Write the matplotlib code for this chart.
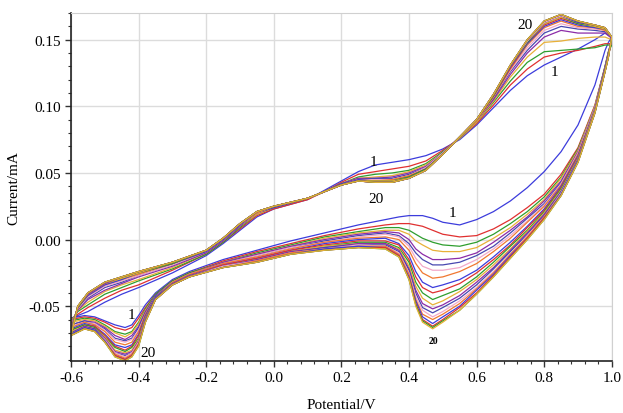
import numpy as np
import matplotlib
matplotlib.use("Agg")
import matplotlib.pyplot as plt
from matplotlib.ticker import MultipleLocator, FormatStrFormatter

plt.rcParams['font.family'] = ['Liberation Serif', 'DejaVu Serif']
plt.rcParams['axes.unicode_minus'] = False

# potential (V) of the positive-going sweep, one row of currents (mA) per potential, cycles 1..20
fwd_V = [-0.60, -0.58, -0.55, -0.50, -0.45, -0.40, -0.30, -0.20, -0.15, -0.10, -0.05, 0.00,
         0.10, 0.15, 0.20, 0.25, 0.30, 0.35, 0.40, 0.45, 0.50, 0.55, 0.60, 0.65, 0.70,
         0.75, 0.80, 0.85, 0.90, 0.95, 0.98, 1.00]
fwd_I = [
    [-0.059, -0.060, -0.061, -0.062, -0.064, -0.064, -0.065, -0.066, -0.067, -0.068, -0.068, -0.069, -0.070, -0.070, -0.071, -0.071, -0.071, -0.072, -0.072, -0.072],
    [-0.057, -0.056, -0.054, -0.053, -0.053, -0.052, -0.052, -0.051, -0.051, -0.051, -0.051, -0.050, -0.050, -0.050, -0.050, -0.050, -0.050, -0.050, -0.050, -0.050],
    [-0.054, -0.051, -0.049, -0.047, -0.045, -0.044, -0.043, -0.042, -0.042, -0.041, -0.041, -0.041, -0.041, -0.040, -0.040, -0.040, -0.040, -0.040, -0.040, -0.040],
    [-0.047, -0.044, -0.041, -0.039, -0.038, -0.036, -0.035, -0.034, -0.034, -0.033, -0.033, -0.033, -0.033, -0.032, -0.032, -0.032, -0.032, -0.032, -0.032, -0.032],
    [-0.041, -0.038, -0.036, -0.034, -0.033, -0.032, -0.031, -0.030, -0.030, -0.029, -0.029, -0.029, -0.028, -0.028, -0.028, -0.028, -0.028, -0.028, -0.028, -0.028],
    [-0.036, -0.034, -0.031, -0.030, -0.028, -0.027, -0.027, -0.026, -0.025, -0.025, -0.025, -0.025, -0.024, -0.024, -0.024, -0.024, -0.024, -0.024, -0.024, -0.024],
    [-0.025, -0.023, -0.022, -0.021, -0.020, -0.019, -0.019, -0.018, -0.018, -0.018, -0.018, -0.017, -0.017, -0.017, -0.017, -0.017, -0.017, -0.017, -0.017, -0.017],
    [-0.012, -0.011, -0.011, -0.010, -0.010, -0.009, -0.009, -0.009, -0.009, -0.008, -0.008, -0.008, -0.008, -0.008, -0.008, -0.008, -0.008, -0.008, -0.008, -0.008],
    [-0.003, -0.002, -0.002, -0.001, -0.001, 0.000, 0.000, 0.000, 0.000, 0.001, 0.001, 0.001, 0.001, 0.001, 0.001, 0.001, 0.001, 0.001, 0.001, 0.001],
    [0.007, 0.008, 0.009, 0.010, 0.010, 0.011, 0.011, 0.011, 0.011, 0.012, 0.012, 0.012, 0.012, 0.012, 0.012, 0.012, 0.012, 0.012, 0.012, 0.012],
    [0.017, 0.018, 0.019, 0.019, 0.020, 0.020, 0.020, 0.020, 0.021, 0.021, 0.021, 0.021, 0.021, 0.021, 0.021, 0.021, 0.021, 0.021, 0.021, 0.021],
    [0.023, 0.023, 0.024, 0.024, 0.024, 0.024, 0.025, 0.025, 0.025, 0.025, 0.025, 0.025, 0.025, 0.025, 0.025, 0.025, 0.025, 0.025, 0.025, 0.025],
    [0.030, 0.030, 0.031, 0.031, 0.031, 0.031, 0.031, 0.031, 0.031, 0.031, 0.031, 0.031, 0.031, 0.031, 0.031, 0.031, 0.031, 0.031, 0.031, 0.031],
    [0.037, 0.036, 0.036, 0.036, 0.036, 0.036, 0.036, 0.036, 0.036, 0.036, 0.036, 0.036, 0.036, 0.036, 0.036, 0.036, 0.036, 0.036, 0.036, 0.036],
    [0.044, 0.043, 0.042, 0.042, 0.042, 0.042, 0.041, 0.041, 0.041, 0.041, 0.041, 0.041, 0.041, 0.041, 0.041, 0.041, 0.041, 0.041, 0.041, 0.041],
    [0.051, 0.049, 0.047, 0.046, 0.046, 0.045, 0.045, 0.045, 0.045, 0.044, 0.044, 0.044, 0.044, 0.044, 0.044, 0.044, 0.044, 0.044, 0.044, 0.044],
    [0.056, 0.051, 0.049, 0.047, 0.046, 0.046, 0.045, 0.044, 0.044, 0.044, 0.044, 0.044, 0.043, 0.043, 0.043, 0.043, 0.043, 0.043, 0.043, 0.043],
    [0.058, 0.053, 0.050, 0.048, 0.047, 0.046, 0.045, 0.045, 0.044, 0.044, 0.044, 0.044, 0.043, 0.043, 0.043, 0.043, 0.043, 0.043, 0.043, 0.043],
    [0.060, 0.055, 0.052, 0.051, 0.050, 0.049, 0.048, 0.048, 0.047, 0.047, 0.047, 0.046, 0.046, 0.046, 0.046, 0.046, 0.046, 0.046, 0.046, 0.046],
    [0.063, 0.059, 0.057, 0.056, 0.055, 0.054, 0.054, 0.053, 0.053, 0.053, 0.053, 0.052, 0.052, 0.052, 0.052, 0.052, 0.052, 0.052, 0.052, 0.052],
    [0.068, 0.067, 0.066, 0.065, 0.065, 0.065, 0.065, 0.064, 0.064, 0.064, 0.064, 0.064, 0.064, 0.064, 0.064, 0.064, 0.064, 0.064, 0.064, 0.064],
    [0.075, 0.076, 0.076, 0.076, 0.077, 0.077, 0.077, 0.077, 0.077, 0.077, 0.077, 0.077, 0.077, 0.077, 0.077, 0.077, 0.077, 0.077, 0.077, 0.077],
    [0.086, 0.087, 0.088, 0.088, 0.089, 0.089, 0.089, 0.089, 0.090, 0.090, 0.090, 0.090, 0.090, 0.090, 0.090, 0.090, 0.090, 0.090, 0.090, 0.090],
    [0.099, 0.101, 0.103, 0.104, 0.105, 0.106, 0.107, 0.107, 0.108, 0.108, 0.108, 0.109, 0.109, 0.109, 0.109, 0.109, 0.109, 0.109, 0.109, 0.109],
    [0.112, 0.116, 0.119, 0.122, 0.124, 0.126, 0.127, 0.128, 0.129, 0.129, 0.130, 0.130, 0.130, 0.130, 0.131, 0.131, 0.131, 0.131, 0.131, 0.131],
    [0.123, 0.128, 0.133, 0.137, 0.140, 0.142, 0.144, 0.146, 0.147, 0.148, 0.148, 0.149, 0.149, 0.149, 0.149, 0.150, 0.150, 0.150, 0.150, 0.150],
    [0.131, 0.137, 0.141, 0.148, 0.152, 0.155, 0.157, 0.159, 0.160, 0.161, 0.162, 0.162, 0.163, 0.163, 0.163, 0.164, 0.164, 0.164, 0.164, 0.164],
    [0.137, 0.140, 0.142, 0.149, 0.157, 0.160, 0.162, 0.164, 0.165, 0.166, 0.167, 0.167, 0.168, 0.168, 0.168, 0.169, 0.169, 0.169, 0.169, 0.169],
    [0.143, 0.142, 0.143, 0.151, 0.155, 0.158, 0.159, 0.160, 0.161, 0.162, 0.162, 0.163, 0.163, 0.163, 0.164, 0.164, 0.164, 0.164, 0.164, 0.164],
    [0.150, 0.145, 0.144, 0.152, 0.155, 0.157, 0.158, 0.159, 0.159, 0.160, 0.160, 0.160, 0.161, 0.161, 0.161, 0.161, 0.161, 0.161, 0.161, 0.161],
    [0.155, 0.147, 0.146, 0.152, 0.155, 0.156, 0.157, 0.157, 0.158, 0.158, 0.158, 0.158, 0.159, 0.159, 0.159, 0.159, 0.159, 0.159, 0.159, 0.159],
    [0.152, 0.147, 0.146, 0.150, 0.151, 0.152, 0.152, 0.152, 0.152, 0.152, 0.152, 0.152, 0.152, 0.152, 0.152, 0.152, 0.152, 0.152, 0.152, 0.152],
]

# negative-going sweep back to -0.6 V
rev_V = [0.99, 0.98, 0.95, 0.90, 0.85, 0.80, 0.75, 0.70, 0.65, 0.60, 0.55, 0.50, 0.47, 0.44,
         0.42, 0.40, 0.37, 0.33, 0.25, 0.15, 0.05, -0.05, -0.15, -0.25, -0.30, -0.35, -0.38,
         -0.40, -0.42, -0.44, -0.47, -0.50, -0.53, -0.56, -0.60]
rev_I = [
    [0.148, 0.141, 0.141, 0.140, 0.140, 0.140, 0.139, 0.139, 0.139, 0.138, 0.138, 0.138, 0.138, 0.138, 0.137, 0.137, 0.137, 0.137, 0.137, 0.137],
    [0.142, 0.130, 0.130, 0.129, 0.129, 0.129, 0.128, 0.128, 0.128, 0.127, 0.127, 0.127, 0.127, 0.127, 0.126, 0.126, 0.126, 0.126, 0.126, 0.126],
    [0.116, 0.101, 0.100, 0.100, 0.099, 0.099, 0.099, 0.098, 0.098, 0.097, 0.097, 0.097, 0.096, 0.096, 0.096, 0.096, 0.095, 0.095, 0.095, 0.095],
    [0.086, 0.069, 0.068, 0.067, 0.066, 0.065, 0.065, 0.064, 0.063, 0.062, 0.061, 0.061, 0.060, 0.060, 0.059, 0.059, 0.059, 0.058, 0.058, 0.058],
    [0.066, 0.049, 0.047, 0.046, 0.044, 0.043, 0.042, 0.041, 0.040, 0.039, 0.038, 0.037, 0.036, 0.036, 0.035, 0.034, 0.034, 0.033, 0.033, 0.033],
    [0.051, 0.034, 0.032, 0.030, 0.029, 0.027, 0.026, 0.025, 0.023, 0.022, 0.021, 0.020, 0.019, 0.018, 0.017, 0.017, 0.016, 0.016, 0.015, 0.015],
    [0.039, 0.024, 0.021, 0.019, 0.017, 0.016, 0.014, 0.013, 0.010, 0.009, 0.007, 0.006, 0.005, 0.004, 0.003, 0.002, 0.001, 0.001, 0.000, 0.000],
    [0.029, 0.015, 0.012, 0.009, 0.007, 0.005, 0.003, 0.001, -0.002, -0.004, -0.005, -0.007, -0.008, -0.009, -0.011, -0.011, -0.012, -0.013, -0.014, -0.014],
    [0.021, 0.008, 0.004, 0.001, -0.002, -0.005, -0.007, -0.009, -0.013, -0.015, -0.017, -0.019, -0.021, -0.022, -0.024, -0.025, -0.026, -0.027, -0.028, -0.028],
    [0.015, 0.003, -0.002, -0.006, -0.010, -0.012, -0.015, -0.018, -0.023, -0.025, -0.028, -0.030, -0.032, -0.034, -0.036, -0.037, -0.038, -0.040, -0.041, -0.041],
    [0.011, 0.002, -0.005, -0.009, -0.014, -0.017, -0.021, -0.024, -0.030, -0.033, -0.037, -0.039, -0.042, -0.044, -0.046, -0.048, -0.050, -0.051, -0.053, -0.053],
    [0.013, 0.004, -0.004, -0.009, -0.015, -0.019, -0.023, -0.028, -0.034, -0.038, -0.042, -0.046, -0.049, -0.051, -0.054, -0.056, -0.058, -0.060, -0.061, -0.062],
    [0.016, 0.007, -0.002, -0.008, -0.015, -0.019, -0.023, -0.029, -0.036, -0.040, -0.045, -0.049, -0.052, -0.055, -0.058, -0.060, -0.063, -0.065, -0.066, -0.067],
    [0.018, 0.010, 0.001, -0.004, -0.011, -0.015, -0.020, -0.025, -0.032, -0.036, -0.040, -0.044, -0.048, -0.051, -0.053, -0.056, -0.058, -0.060, -0.061, -0.062],
    [0.018, 0.011, 0.004, -0.001, -0.007, -0.010, -0.014, -0.018, -0.024, -0.028, -0.032, -0.035, -0.038, -0.040, -0.043, -0.045, -0.046, -0.048, -0.049, -0.050],
    [0.018, 0.012, 0.007, 0.004, 0.000, -0.003, -0.005, -0.008, -0.012, -0.015, -0.017, -0.020, -0.022, -0.023, -0.025, -0.026, -0.028, -0.029, -0.030, -0.030],
    [0.017, 0.012, 0.009, 0.007, 0.005, 0.003, 0.002, 0.000, -0.003, -0.004, -0.006, -0.007, -0.008, -0.009, -0.010, -0.011, -0.012, -0.012, -0.013, -0.013],
    [0.015, 0.011, 0.009, 0.007, 0.006, 0.005, 0.004, 0.002, 0.001, -0.001, -0.002, -0.003, -0.003, -0.004, -0.005, -0.005, -0.006, -0.006, -0.007, -0.007],
    [0.011, 0.008, 0.006, 0.005, 0.004, 0.003, 0.002, 0.001, 0.000, -0.001, -0.002, -0.003, -0.003, -0.004, -0.004, -0.005, -0.005, -0.006, -0.006, -0.006],
    [0.005, 0.003, 0.002, 0.001, 0.000, -0.001, -0.002, -0.002, -0.003, -0.004, -0.005, -0.005, -0.006, -0.006, -0.007, -0.007, -0.007, -0.008, -0.008, -0.008],
    [-0.001, -0.003, -0.004, -0.005, -0.005, -0.006, -0.006, -0.007, -0.008, -0.008, -0.009, -0.009, -0.009, -0.010, -0.010, -0.010, -0.011, -0.011, -0.011, -0.011],
    [-0.008, -0.009, -0.010, -0.011, -0.011, -0.012, -0.012, -0.013, -0.014, -0.014, -0.015, -0.015, -0.015, -0.016, -0.016, -0.016, -0.017, -0.017, -0.017, -0.017],
    [-0.015, -0.016, -0.017, -0.017, -0.017, -0.018, -0.018, -0.018, -0.019, -0.019, -0.020, -0.020, -0.020, -0.020, -0.020, -0.021, -0.021, -0.021, -0.021, -0.021],
    [-0.024, -0.025, -0.025, -0.026, -0.026, -0.026, -0.026, -0.026, -0.027, -0.027, -0.027, -0.027, -0.027, -0.028, -0.028, -0.028, -0.028, -0.028, -0.028, -0.028],
    [-0.030, -0.031, -0.031, -0.032, -0.032, -0.032, -0.032, -0.032, -0.033, -0.033, -0.033, -0.033, -0.033, -0.034, -0.034, -0.034, -0.034, -0.034, -0.034, -0.034],
    [-0.040, -0.041, -0.041, -0.042, -0.042, -0.042, -0.043, -0.043, -0.043, -0.044, -0.044, -0.044, -0.044, -0.044, -0.045, -0.045, -0.045, -0.045, -0.045, -0.045],
    [-0.049, -0.051, -0.052, -0.053, -0.054, -0.055, -0.056, -0.056, -0.057, -0.058, -0.059, -0.059, -0.060, -0.060, -0.061, -0.061, -0.061, -0.062, -0.062, -0.062],
    [-0.057, -0.059, -0.062, -0.063, -0.065, -0.066, -0.068, -0.069, -0.071, -0.072, -0.074, -0.075, -0.076, -0.077, -0.077, -0.078, -0.079, -0.079, -0.080, -0.080],
    [-0.064, -0.066, -0.069, -0.070, -0.072, -0.074, -0.075, -0.077, -0.079, -0.080, -0.081, -0.083, -0.084, -0.085, -0.085, -0.086, -0.087, -0.087, -0.088, -0.088],
    [-0.066, -0.068, -0.071, -0.073, -0.075, -0.076, -0.077, -0.079, -0.081, -0.083, -0.084, -0.085, -0.086, -0.087, -0.088, -0.089, -0.090, -0.090, -0.091, -0.091],
    [-0.064, -0.066, -0.069, -0.070, -0.072, -0.074, -0.075, -0.077, -0.079, -0.080, -0.081, -0.083, -0.084, -0.085, -0.085, -0.086, -0.087, -0.087, -0.088, -0.088],
    [-0.061, -0.062, -0.064, -0.065, -0.066, -0.067, -0.068, -0.069, -0.071, -0.072, -0.073, -0.073, -0.074, -0.075, -0.075, -0.076, -0.076, -0.077, -0.077, -0.077],
    [-0.058, -0.059, -0.060, -0.061, -0.062, -0.063, -0.063, -0.064, -0.065, -0.065, -0.066, -0.067, -0.067, -0.067, -0.068, -0.068, -0.068, -0.069, -0.069, -0.069],
    [-0.057, -0.058, -0.059, -0.060, -0.061, -0.061, -0.062, -0.062, -0.063, -0.064, -0.064, -0.065, -0.065, -0.066, -0.066, -0.066, -0.066, -0.067, -0.067, -0.067],
    [-0.059, -0.060, -0.061, -0.062, -0.064, -0.064, -0.065, -0.066, -0.067, -0.068, -0.068, -0.069, -0.070, -0.070, -0.071, -0.071, -0.071, -0.072, -0.072, -0.072],
]

# colour of each cycle (the instrument repeats 8 colours)
cycle_colors = ['#3c3cdc', '#e03030', '#2e9e2e', '#e8b038', '#8c2ca8', '#4848b0', '#f2a8c8', '#f07830'] * 3

fig = plt.figure(figsize=(6.23, 4.14), dpi=100)
ax = fig.add_axes([0.114, 0.126, 0.868, 0.840])

V = np.array(fwd_V + rev_V)
I = np.vstack([np.array(fwd_I), np.array(rev_I)])
for k in range(I.shape[1]):
    ax.plot(V, I[:, k], color=cycle_colors[k], lw=0.9)

# cycle numbers
ax.text(0.296, 0.0587, "1", fontsize=11, ha='center', va='center')
ax.text(0.302, 0.0306, "20", fontsize=11, ha='center', va='center')
ax.text(0.743, 0.1614, "20", fontsize=11, ha='center', va='center')
ax.text(0.829, 0.1259, "1", fontsize=11, ha='center', va='center')
ax.text(0.529, 0.0205, "1", fontsize=11, ha='center', va='center')
ax.text(0.471, -0.0755, "20", fontsize=7, fontweight='bold', ha='center', va='center')
ax.text(-0.42, -0.056, "1", fontsize=11, ha='center', va='center')
ax.text(-0.371, -0.0847, "20", fontsize=11, ha='center', va='center')

ax.set_xlim(-0.6, 1.0)
ax.set_ylim(-0.091, 0.170)
ax.xaxis.set_major_locator(MultipleLocator(0.2))
ax.xaxis.set_minor_locator(MultipleLocator(0.04))
ax.yaxis.set_major_locator(MultipleLocator(0.05))
ax.yaxis.set_minor_locator(MultipleLocator(0.01))
ax.xaxis.set_major_formatter(FormatStrFormatter('%.1f'))
ax.yaxis.set_major_formatter(FormatStrFormatter('%.2f'))
ax.tick_params(which='major', length=4, width=1, labelsize=11, color='#333333')
ax.tick_params(which='minor', length=2.5, width=0.8, color='#333333')
ax.grid(True, which='major', color='#dcdcdc', lw=1)
ax.set_axisbelow(True)

for s in ['top', 'right']:
    ax.spines[s].set_color('#d0d0d0')
for s in ['left', 'bottom']:
    ax.spines[s].set_color('#222222')
    ax.spines[s].set_linewidth(1.2)

ax.set_xlabel("Potential/V", fontsize=11, labelpad=10)
ax.set_ylabel("Current/mA", fontsize=11, labelpad=6)

fig.savefig("out.png", dpi=100)
